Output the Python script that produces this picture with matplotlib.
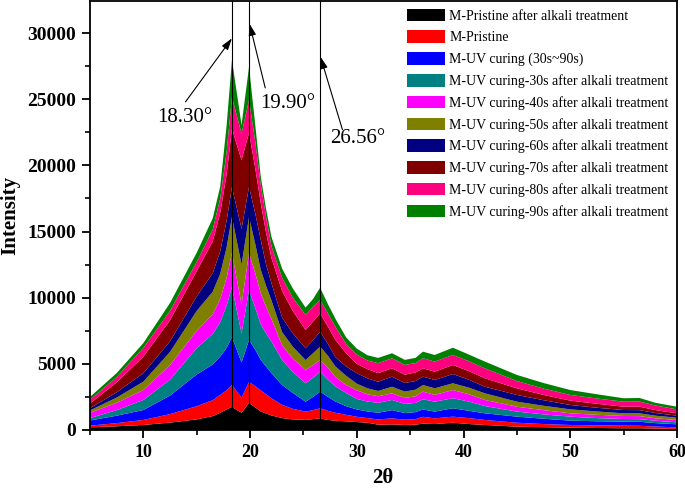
import matplotlib
matplotlib.use("Agg")
import matplotlib.pyplot as plt
from matplotlib.patches import Patch
from matplotlib.ticker import MultipleLocator

plt.rcParams['font.family'] = ['Liberation Serif', 'DejaVu Serif']

two_theta = [5, 7.5, 10, 12.5, 15, 16.5, 17.2, 17.8, 18.3, 19.2, 19.9, 20.5, 21, 21.5, 22, 23, 24,
             25.2, 25.9, 26.56, 27.3, 28, 29, 30, 31, 32, 33.3, 34.5, 35.5, 36.2, 37.3, 39, 40.5,
             42, 45, 47.5, 50, 52.5, 55, 56.5, 58, 60]

pristine_alkali = [200, 280, 380, 560, 800, 1050, 1300, 1550, 1740, 1300, 2040, 1700, 1400, 1250, 1100, 900, 800, 760, 820, 880, 760, 700, 650, 600, 550, 400, 420, 380, 400, 480, 450, 550, 450, 380, 250, 210, 180, 150, 130, 130, 100, 80]
pristine = [130, 240, 380, 640, 1000, 1200, 1350, 1450, 1660, 1150, 1590, 1600, 1600, 1450, 1300, 1000, 800, 630, 680, 760, 690, 600, 500, 400, 350, 400, 460, 400, 420, 520, 430, 460, 450, 380, 300, 240, 200, 200, 200, 190, 160, 120]
uv_curing = [390, 560, 750, 1400, 2400, 2700, 2900, 3200, 3630, 2650, 3170, 2750, 2300, 2100, 1900, 1500, 1200, 750, 1000, 1260, 1050, 850, 650, 550, 500, 500, 620, 500, 530, 550, 510, 630, 550, 500, 460, 400, 330, 310, 300, 300, 260, 230]
uv30_alkali = [180, 420, 760, 1200, 2000, 2300, 2600, 3200, 3770, 2200, 3780, 3150, 2700, 2500, 2400, 1900, 1600, 1390, 1450, 1510, 1300, 1150, 1000, 800, 750, 750, 770, 690, 700, 770, 750, 760, 700, 550, 380, 330, 300, 240, 200, 200, 180, 150]
uv40_alkali = [400, 550, 750, 1100, 1300, 1500, 1750, 2100, 2580, 2200, 2800, 2600, 2330, 2000, 1700, 1100, 1000, 1010, 950, 880, 900, 700, 600, 650, 550, 500, 500, 450, 500, 580, 510, 620, 550, 460, 370, 320, 250, 250, 230, 230, 180, 180]
uv50_alkali = [180, 400, 630, 1000, 1500, 1700, 1900, 2300, 2720, 3000, 2720, 2200, 1770, 1600, 1400, 1000, 900, 750, 900, 1010, 900, 800, 700, 500, 450, 400, 500, 480, 500, 500, 500, 510, 500, 500, 380, 330, 300, 250, 200, 210, 200, 170]
uv60_alkali = [170, 400, 640, 800, 1100, 1400, 1700, 2000, 2270, 2700, 2270, 2300, 2260, 1600, 1300, 1100, 1000, 890, 1000, 1130, 900, 700, 700, 800, 750, 700, 760, 650, 650, 630, 630, 700, 600, 500, 510, 420, 330, 280, 250, 240, 200, 150]
uv70_alkali = [350, 750, 1250, 1600, 1900, 2400, 2900, 3500, 4380, 5200, 4080, 3400, 2780, 2400, 1900, 2000, 1700, 1380, 1400, 1390, 1300, 1300, 1000, 700, 700, 650, 630, 630, 650, 630, 630, 680, 650, 640, 500, 400, 330, 300, 250, 260, 220, 180]
uv80_alkali = [270, 400, 660, 700, 700, 900, 1100, 1700, 2400, 2000, 2490, 2000, 1380, 1200, 900, 1000, 1000, 1130, 1100, 1010, 1000, 1000, 700, 700, 650, 750, 760, 740, 700, 760, 760, 760, 750, 750, 550, 480, 430, 400, 380, 390, 350, 300]
uv90_alkali = [230, 300, 370, 600, 700, 850, 900, 2000, 2820, 650, 2500, 1230, 630, 600, 700, 700, 700, 560, 600, 920, 700, 600, 500, 450, 400, 400, 380, 380, 400, 500, 500, 550, 500, 510, 460, 420, 370, 320, 260, 270, 200, 200]

series_labels = ["M-Pristine after alkali treatment",
                 "M-Pristine",
                 "M-UV curing (30s~90s)",
                 "M-UV curing-30s after alkali treatment",
                 "M-UV curing-40s after alkali treatment",
                 "M-UV curing-50s after alkali treatment",
                 "M-UV curing-60s after alkali treatment",
                 "M-UV curing-70s after alkali treatment",
                 "M-UV curing-80s after alkali treatment",
                 "M-UV curing-90s after alkali treatment"]
series_colors = ['#000000', '#FF0000', '#0000FF', '#008080', '#FF00FF',
                 '#808000', '#000080', '#800000', '#FF0080', '#008000']

peak_positions = [18.30, 19.90, 26.56]
peak_labels = ["18.30°", "19.90°", "26.56°"]
peak_text_xy = [(13.92, 23600), (23.5, 24700), (30.06, 22050)]
peak_arrow_tail = [(13.95, 24800), (21.42, 25850), (28.65, 22700)]
peak_arrow_head = [(18.3, 29600), (19.95, 30700), (26.6, 28200)]

fig = plt.figure(figsize=(6.85, 4.91), dpi=100)
ax = fig.add_axes([90 / 685, 1 - 430 / 491, 587 / 685, 429 / 491])

series = [pristine_alkali, pristine, uv_curing, uv30_alkali, uv40_alkali,
          uv50_alkali, uv60_alkali, uv70_alkali, uv80_alkali, uv90_alkali]
ax.stackplot(two_theta, *series, colors=series_colors, linewidth=0, zorder=2)

for xp in peak_positions:
    ax.axvline(xp, color='black', lw=0.8, zorder=3)

for lab, txy, tail, head in zip(peak_labels, peak_text_xy, peak_arrow_tail, peak_arrow_head):
    ax.text(txy[0], txy[1], lab, ha='center', va='center', fontsize=15, zorder=5)
    ax.annotate('', xy=head, xytext=tail,
                arrowprops=dict(arrowstyle='-|>,head_length=0.7,head_width=0.22',
                                color='black', lw=0.8, shrinkA=0, shrinkB=0),
                zorder=5)

ax.set_xlim(5, 60)
ax.set_ylim(0, 32420)
ax.xaxis.set_major_locator(MultipleLocator(10))
ax.xaxis.set_minor_locator(MultipleLocator(5))
ax.yaxis.set_major_locator(MultipleLocator(5000))
ax.yaxis.set_minor_locator(MultipleLocator(2500))
ax.tick_params(which='major', direction='out', length=6, width=1.3, labelsize=14, pad=4,
               top=False, right=False)
ax.tick_params(axis='x', which='major', labelsize=13)
ax.tick_params(which='minor', direction='out', length=3.5, width=1.2, top=False, right=False)
for lbl in ax.get_xticklabels() + ax.get_yticklabels():
    lbl.set_fontweight('bold')
for sp in ax.spines.values():
    sp.set_linewidth(1.3)

ax.set_xlabel('2θ', fontsize=15, fontweight='bold')
ax.set_ylabel('Intensity', fontsize=15, fontweight='bold')
ax.xaxis.set_label_coords(0.499, -0.088)
ax.yaxis.set_label_coords(-0.118, 0.5)

handles = [Patch(facecolor=c, edgecolor='none') for c in series_colors]
ax.legend(handles, series_labels, loc='upper left', bbox_to_anchor=((407 - 90) / 587, 0.982),
          frameon=False, fontsize=10, handlelength=2.75, handleheight=1.0,
          handletextpad=0.3, labelspacing=0.56, borderpad=0, borderaxespad=0)

fig.savefig('out.png', dpi=100)
